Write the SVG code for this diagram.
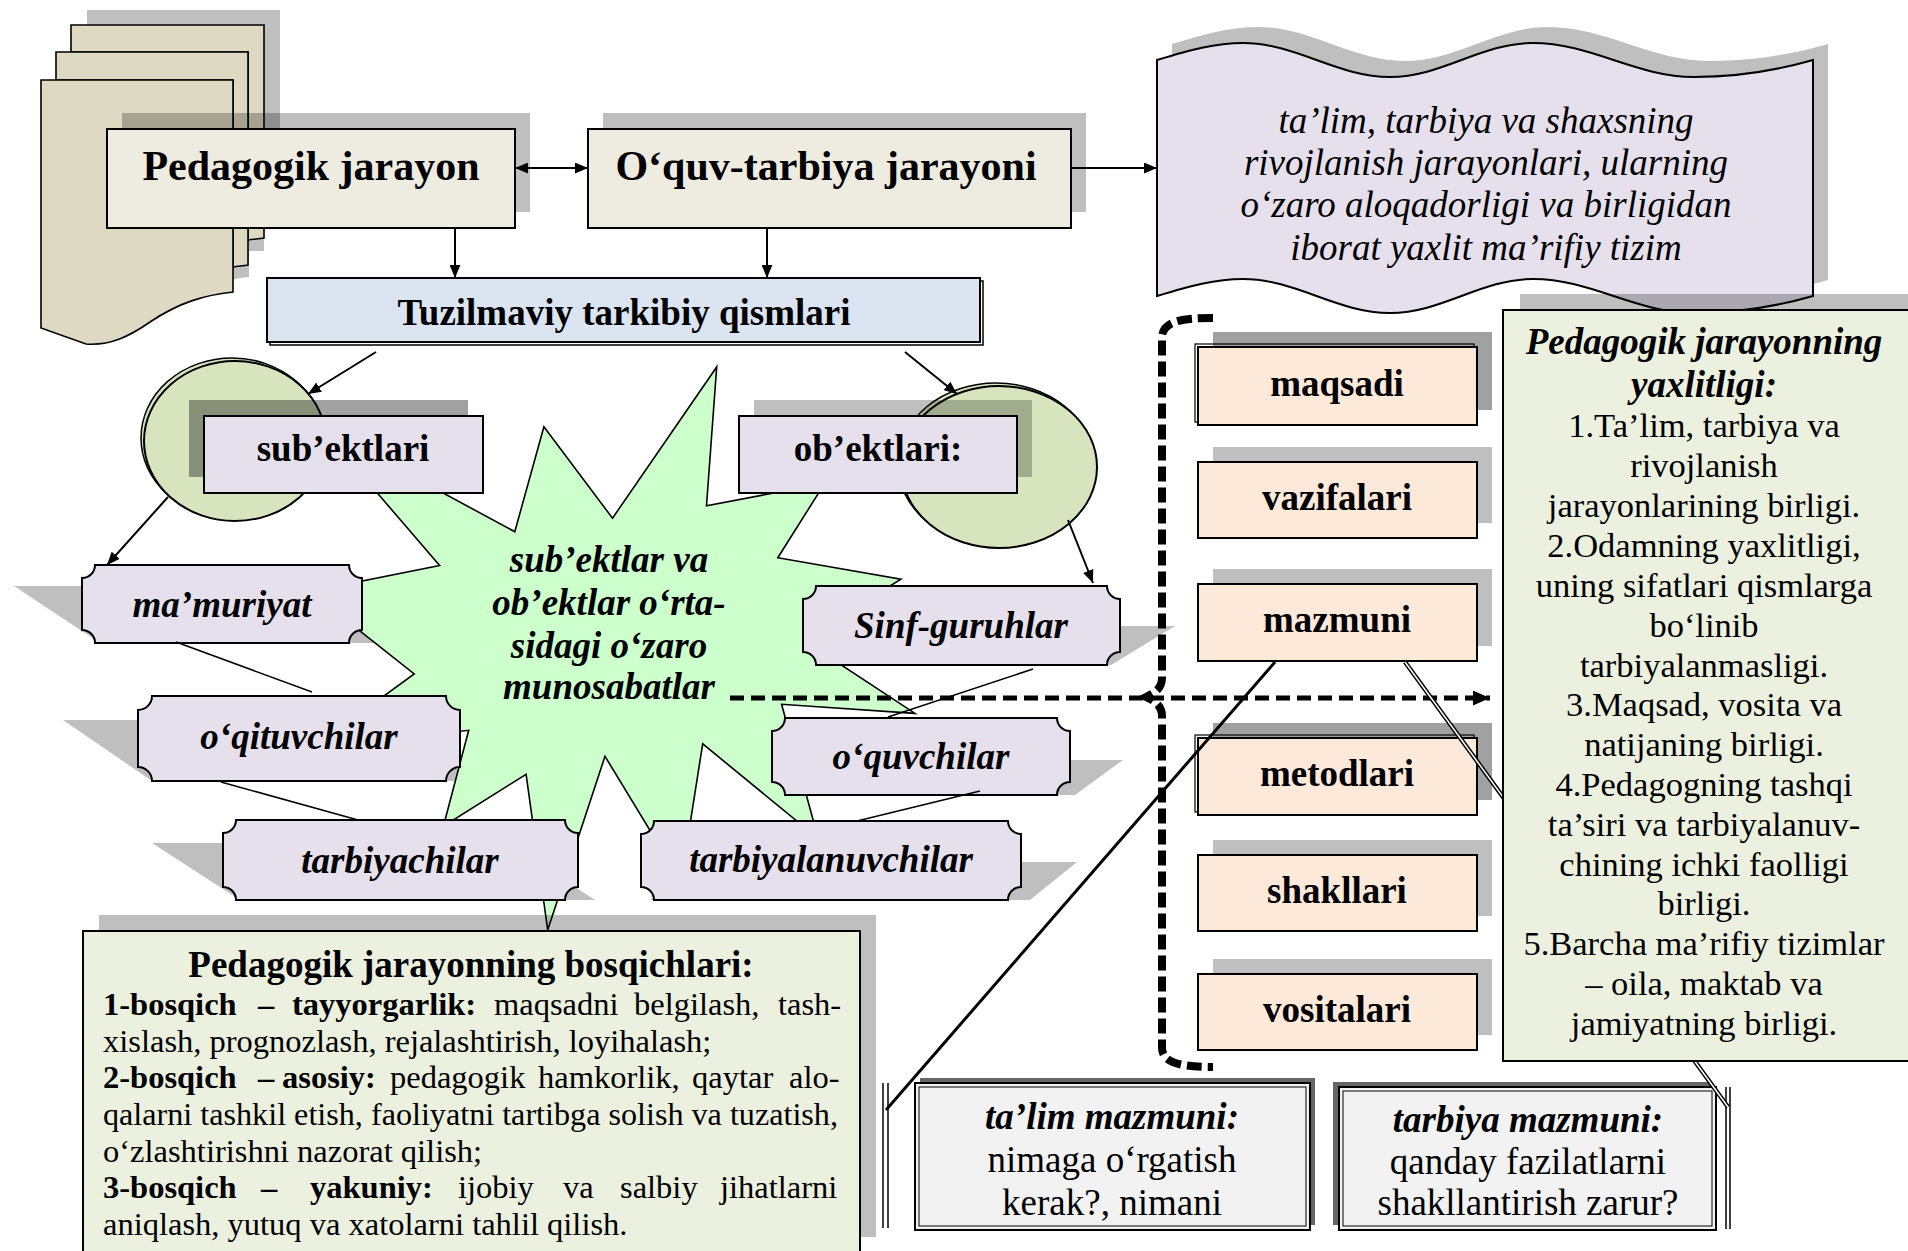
<svg xmlns="http://www.w3.org/2000/svg" width="1908" height="1251" viewBox="0 0 1908 1251">
<style>
.t{font-family:"Liberation Serif","Times New Roman",serif;fill:#000}
.m{text-anchor:middle}
.b{font-weight:bold}
.i{font-style:italic}
.s42{font-size:42px}
.s37{font-size:37px}
.s34{font-size:34.5px}
.s32{font-size:32.5px}
.bx{stroke:#000;stroke-width:2}
.sh{fill:#000;fill-opacity:.25}
.shd{fill:#000;fill-opacity:.37}
.gs{fill:#bfbfbf}
.ln{stroke:#000;stroke-width:2;fill:none}
.tl{stroke:#000;stroke-width:1.5;fill:none}
.lav{fill:#e5e0ec}
.peach{fill:#fde9d9}
.grn{fill:#ebf1de}
.olv{fill:#d7e4bd}
.tan{fill:#ddd9c3;stroke:#000;stroke-width:1.6}
</style>
<defs>
<marker id="ah" viewBox="0 0 12 10" refX="12" refY="5" markerWidth="13" markerHeight="11" markerUnits="userSpaceOnUse" orient="auto-start-reverse"><path d="M0,0 L12,5 L0,10 Z" fill="#000"/></marker>
<marker id="ahb" viewBox="0 0 16 14" refX="16" refY="7" markerWidth="17" markerHeight="15" markerUnits="userSpaceOnUse" orient="auto"><path d="M0,0 L16,7 L0,14 Z" fill="#000"/></marker>
<path id="wave" d="M1157,60 C1190,50 1215,43 1243,43 C1296,43 1337,77 1390,77 C1442,77 1481,43 1533,43 C1591,43 1636,77 1694,77 C1745,77 1785,68 1813,60 V296 C1785,304 1745,313 1694,313 C1636,313 1591,279 1533,279 C1481,279 1442,313 1390,313 C1337,313 1296,279 1243,279 C1215,279 1190,286 1157,296 Z"/>
<path id="page1" d="M41,80 H233 V292 C205,295 180,302 150,322 C130,336 110,346 86,344 L41,328 Z"/>
</defs>
<rect width="1908" height="1251" fill="#fff"/>

<g id="doc-stack">
<g class="gs" transform="translate(16,-15)">
<rect x="71" y="25" width="193" height="214"/>
<rect x="56" y="52" width="192" height="214"/>
<use href="#page1"/>
</g>
<path class="tan" d="M71,25 H264 V238 C258,239 253,239 248,240 L248,52 L71,52 Z"/>
<path class="tan" d="M56,52 H248 V265 C243,266 238,266 233,267 L233,80 L56,80 Z"/>
<use href="#page1" class="tan"/>
</g>

<g id="n-pedagogik">
<rect class="sh" x="122" y="113" width="408" height="99"/>
<rect class="bx" x="107" y="129" width="408" height="99" fill="#eeece1"/>
<text class="t b s42 m" x="311" y="180">Pedagogik jarayon</text>
</g>

<g id="n-oquv">
<rect class="sh" x="603" y="113" width="483" height="99"/>
<rect class="bx" x="588" y="129" width="483" height="99" fill="#eeece1"/>
<text class="t b s42 m" x="826" y="180">O‘quv-tarbiya jarayoni</text>
</g>

<g id="n-tizim">
<use href="#wave" class="gs" transform="translate(15,-16)"/>
<use href="#wave" class="lav" stroke="#000" stroke-width="2"/>
<text class="t i s37 m" x="1486" y="133">ta’lim, tarbiya va shaxsning</text>
<text class="t i s37 m" x="1486" y="175">rivojlanish jarayonlari, ularning</text>
<text class="t i s37 m" x="1486" y="217">o‘zaro aloqadorligi va birligidan</text>
<text class="t i s37 m" x="1486" y="260">iborat yaxlit ma’rifiy tizim</text>
</g>

<g id="n-tuzilmaviy">
<rect x="270" y="281" width="713" height="64" fill="#fff" stroke="#000" stroke-width="1.5"/>
<rect class="bx" x="267" y="278" width="713" height="64" fill="#dbe5f1"/>
<text class="t b s37 m" x="624" y="325">Tuzilmaviy tarkibiy qismlari</text>
</g>

<g id="n-sub-ellipse">
<ellipse cx="232" cy="438" rx="91" ry="80" class="olv" stroke="#000" stroke-width="1.5"/>
<ellipse cx="235" cy="441" rx="91" ry="80" class="olv" stroke="#000" stroke-width="2"/>
</g>
<g id="n-ob-ellipse">
<ellipse cx="996" cy="464" rx="98" ry="81" class="olv" stroke="#000" stroke-width="1.5"/>
<ellipse cx="999" cy="467" rx="98" ry="81" class="olv" stroke="#000" stroke-width="2"/>
</g>

<g id="plaque-shadows" class="gs">
<polygon points="14,586 294,586 380,643 100,643"/>
<polygon points="63,720 385,720 474,781 152,781"/>
<polygon points="152,843 507,843 595,900 240,900"/>
<polygon points="858,626 1175,626 1111,665 794,665"/>
<polygon points="825,760 1123,760 1075,795 777,795"/>
<polygon points="697,862 1077,862 1030,900 650,900"/>
</g>

<g id="n-star">
<path d="M612.5,518.2 L716.7,367 L706.5,505.8 L824.8,483.2 L777.8,557.7 L900.9,579.1 L803.2,640 L915,713.4 L781.6,704.3 L818.2,838.6 L702.7,743.8 L681,881.4 L605,756.3 L547.7,930 L526.1,774.3 L443.4,826.2 L468.7,730.3 L313.8,747.2 L414.2,673.9 L310,591.5 L439.6,565.5 L320.4,426.8 L514.8,531.7 L543.9,426.8 Z" fill="#ccffcc" stroke="#000" stroke-width="1.6"/>
<text class="t b i s37 m" x="609" y="572">sub’ektlar va</text>
<text class="t b i s37 m" x="609" y="615">ob’ektlar o‘rta-</text>
<text class="t b i s37 m" x="609" y="658">sidagi o‘zaro</text>
<text class="t b i s37 m" x="609" y="699">munosabatlar</text>
</g>

<g id="n-subektlari">
<rect class="shd" x="189" y="400" width="279" height="77"/>
<rect class="bx lav" x="204" y="416" width="279" height="77"/>
<text class="t b s37 m" x="343" y="461">sub’ektlari</text>
</g>
<g id="n-obektlari">
<rect class="sh" x="754" y="400" width="278" height="77"/>
<rect class="bx lav" x="739" y="416" width="278" height="77"/>
<text class="t b s37 m" x="878" y="461">ob’ektlari:</text>
</g>

<g id="n-mamuriyat">
<path class="bx lav" d="M95,565 H349 A13,13 0 0 0 362,578 V630 A13,13 0 0 0 349,643 H95 A13,13 0 0 0 82,630 V578 A13,13 0 0 0 95,565 Z"/>
<text class="t b i s37 m" x="222" y="617">ma’muriyat</text>
</g>
<g id="n-oqituvchilar">
<path class="bx lav" d="M152,696 H446 A14,14 0 0 0 460,710 V767 A14,14 0 0 0 446,781 H152 A14,14 0 0 0 138,767 V710 A14,14 0 0 0 152,696 Z"/>
<text class="t b i s37 m" x="299" y="749">o‘qituvchilar</text>
</g>
<g id="n-tarbiyachilar">
<path class="bx lav" d="M236,820 H565 A13,13 0 0 0 578,833 V887 A13,13 0 0 0 565,900 H236 A13,13 0 0 0 223,887 V833 A13,13 0 0 0 236,820 Z"/>
<text class="t b i s37 m" x="400" y="873">tarbiyachilar</text>
</g>
<g id="n-sinf">
<path class="bx lav" d="M816,586 H1107 A13,13 0 0 0 1120,599 V652 A13,13 0 0 0 1107,665 H816 A13,13 0 0 0 803,652 V599 A13,13 0 0 0 816,586 Z"/>
<text class="t b i s37 m" x="961" y="638">Sinf-guruhlar</text>
</g>
<g id="n-oquvchilar">
<path class="bx lav" d="M785,718 H1057 A13,13 0 0 0 1070,731 V782 A13,13 0 0 0 1057,795 H785 A13,13 0 0 0 772,782 V731 A13,13 0 0 0 785,718 Z"/>
<text class="t b i s37 m" x="921" y="769">o‘quvchilar</text>
</g>
<g id="n-tarbiyalanuvchilar">
<path class="bx lav" d="M654,821 H1008 A13,13 0 0 0 1021,834 V887 A13,13 0 0 0 1008,900 H654 A13,13 0 0 0 641,887 V834 A13,13 0 0 0 654,821 Z"/>
<text class="t b i s37 m" x="831" y="872">tarbiyalanuvchilar</text>
</g>

<g id="n-maqsadi">
<rect class="shd" x="1213" y="332" width="279" height="78"/>
<rect x="1195" y="344" width="279" height="78" fill="none" stroke="#000" stroke-width="1.2"/>
<rect class="bx peach" x="1198" y="347" width="279" height="78"/>
<text class="t b s37 m" x="1337" y="396">maqsadi</text>
</g>
<g id="n-vazifalari">
<rect class="sh" x="1213" y="447" width="279" height="76"/>
<rect class="bx peach" x="1198" y="462" width="279" height="76"/>
<text class="t b s37 m" x="1337" y="510">vazifalari</text>
</g>
<g id="n-mazmuni">
<rect class="sh" x="1213" y="569" width="279" height="77"/>
<rect class="bx peach" x="1198" y="584" width="279" height="77"/>
<text class="t b s37 m" x="1337" y="632">mazmuni</text>
</g>
<g id="n-metodlari">
<rect class="shd" x="1213" y="723" width="279" height="77"/>
<rect x="1195" y="735" width="279" height="77" fill="none" stroke="#000" stroke-width="1.2"/>
<rect class="bx peach" x="1198" y="738" width="279" height="77"/>
<text class="t b s37 m" x="1337" y="786">metodlari</text>
</g>
<g id="n-shakllari">
<rect class="sh" x="1213" y="840" width="279" height="76"/>
<rect class="bx peach" x="1198" y="855" width="279" height="76"/>
<text class="t b s37 m" x="1337" y="903">shakllari</text>
</g>
<g id="n-vositalari">
<rect class="sh" x="1213" y="959" width="279" height="76"/>
<rect class="bx peach" x="1198" y="974" width="279" height="76"/>
<text class="t b s37 m" x="1337" y="1022">vositalari</text>
</g>

<g id="n-bosqichlari">
<rect class="sh" x="99" y="915" width="777" height="322"/>
<rect class="bx grn" x="83" y="931" width="777" height="322"/>
<text class="t b s37 m" x="471" y="977">Pedagogik jarayonning bosqichlari:</text>
<text class="t s32" y="1015"><tspan x="103" class="b">1-bosqich</tspan><tspan x="258" class="b">–</tspan><tspan x="292" class="b">tayyorgarlik:</tspan><tspan x="494">maqsadni</tspan><tspan x="634">belgilash,</tspan><tspan x="778">tash-</tspan></text>
<text class="t s32" x="103" y="1052">xislash, prognozlash, rejalashtirish, loyihalash;</text>
<text class="t s32" y="1088"><tspan x="103" class="b">2-bosqich</tspan><tspan x="258" class="b">–</tspan><tspan x="282" class="b">asosiy:</tspan><tspan x="390">pedagogik</tspan><tspan x="538">hamkorlik,</tspan><tspan x="692">qaytar</tspan><tspan x="789">alo-</tspan></text>
<text class="t s32" x="103" y="1125" textLength="735" lengthAdjust="spacingAndGlyphs">qalarni tashkil etish, faoliyatni tartibga solish va tuzatish,</text>
<text class="t s32" x="103" y="1162">o‘zlashtirishni nazorat qilish;</text>
<text class="t s32" y="1198"><tspan x="103" class="b">3-bosqich</tspan><tspan x="261" class="b">–</tspan><tspan x="310" class="b">yakuniy:</tspan><tspan x="458">ijobiy</tspan><tspan x="563">va</tspan><tspan x="620">salbiy</tspan><tspan x="720">jihatlarni</tspan></text>
<text class="t s32" x="103" y="1235">aniqlash, yutuq va xatolarni tahlil qilish.</text>
</g>

<g id="n-talim-mazmuni">
<rect x="920" y="1078" width="395" height="147" fill="#666"/>
<rect class="bx" x="915" y="1083" width="395" height="147" fill="#f2f2f2"/>
<rect x="919" y="1087" width="387" height="139" fill="none" stroke="#000" stroke-width="1"/>
<line x1="883" y1="1083" x2="883" y2="1228" class="tl"/>
<line x1="888" y1="1083" x2="888" y2="1228" class="tl"/>
<text class="t b i s37 m" x="1112" y="1129">ta’lim mazmuni:</text>
<text class="t s37 m" x="1112" y="1172">nimaga o‘rgatish</text>
<text class="t s37 m" x="1112" y="1215">kerak?, nimani</text>
</g>

<g id="n-tarbiya-mazmuni">
<rect x="1333" y="1082" width="377" height="143" fill="#666"/>
<rect class="bx" x="1339" y="1087" width="377" height="143" fill="#f2f2f2"/>
<rect x="1343" y="1091" width="369" height="135" fill="none" stroke="#000" stroke-width="1"/>
<line x1="1726" y1="1087" x2="1726" y2="1229" class="tl"/>
<line x1="1730" y1="1087" x2="1730" y2="1229" class="tl"/>
<text class="t b i s37 m" x="1528" y="1132">tarbiya mazmuni:</text>
<text class="t s37 m" x="1528" y="1174">qanday fazilatlarni</text>
<text class="t s37 m" x="1528" y="1215">shakllantirish zarur?</text>
</g>

<g id="connectors">
<line class="ln" x1="515" y1="168" x2="588" y2="168" marker-start="url(#ah)" marker-end="url(#ah)"/>
<line class="ln" x1="1071" y1="168" x2="1157" y2="168" marker-end="url(#ah)"/>
<line class="ln" x1="455" y1="228" x2="455" y2="278" marker-end="url(#ah)"/>
<line class="ln" x1="767" y1="228" x2="767" y2="278" marker-end="url(#ah)"/>
<line class="ln" x1="376" y1="352" x2="308" y2="394" marker-end="url(#ah)"/>
<line class="ln" x1="905" y1="352" x2="957" y2="394" marker-end="url(#ah)"/>
<line class="ln" x1="168" y1="497" x2="107" y2="565" marker-end="url(#ah)"/>
<line class="ln" x1="1068" y1="520" x2="1093" y2="583" marker-end="url(#ah)"/>
<line class="tl" x1="176" y1="642" x2="312" y2="692"/>
<line class="tl" x1="221" y1="782" x2="358" y2="820"/>
<line class="tl" x1="1033" y1="669" x2="888" y2="717"/>
<line class="tl" x1="980" y1="791" x2="857" y2="821"/>
<path d="M1213,318 C1185,318 1162,320 1162,338 V678 C1162,690 1152,694 1146,697 C1152,700 1162,704 1162,716 V1048 C1162,1064 1185,1067 1213,1067" fill="none" stroke="#000" stroke-width="8" stroke-dasharray="15 6"/>
<line x1="730" y1="698" x2="1490" y2="698" stroke="#000" stroke-width="5" stroke-dasharray="14 7" marker-end="url(#ahb)"/>
<line x1="1275" y1="662" x2="886" y2="1110" stroke="#000" stroke-width="3"/>
<line x1="1405" y1="662" x2="1728" y2="1107" stroke="#000" stroke-width="4.5"/>
<line x1="1405" y1="662" x2="1728" y2="1107" stroke="#fff" stroke-width="1.5"/>
</g>

<g id="n-yaxlitligi">
<rect class="sh" x="1520" y="294" width="400" height="751"/>
<rect class="bx grn" x="1503" y="310" width="420" height="751"/>
<text class="t b i s37 m" x="1704" y="354">Pedagogik jarayonning</text>
<text class="t b i s37 m" x="1704" y="397">yaxlitligi:</text>
<text class="t s34 m" x="1704" y="437">1.Ta’lim, tarbiya va</text>
<text class="t s34 m" x="1704" y="477">rivojlanish</text>
<text class="t s34 m" x="1704" y="517">jarayonlarining birligi.</text>
<text class="t s34 m" x="1704" y="557">2.Odamning yaxlitligi,</text>
<text class="t s34 m" x="1704" y="597">uning sifatlari qismlarga</text>
<text class="t s34 m" x="1704" y="637">bo‘linib</text>
<text class="t s34 m" x="1704" y="677">tarbiyalanmasligi.</text>
<text class="t s34 m" x="1704" y="716">3.Maqsad, vosita va</text>
<text class="t s34 m" x="1704" y="756">natijaning birligi.</text>
<text class="t s34 m" x="1704" y="796">4.Pedagogning tashqi</text>
<text class="t s34 m" x="1704" y="836">ta’siri va tarbiyalanuv-</text>
<text class="t s34 m" x="1704" y="876">chining ichki faolligi</text>
<text class="t s34 m" x="1704" y="915">birligi.</text>
<text class="t s34 m" x="1704" y="955">5.Barcha ma’rifiy tizimlar</text>
<text class="t s34 m" x="1704" y="995">– oila, maktab va</text>
<text class="t s34 m" x="1704" y="1035">jamiyatning birligi.</text>
</g>
</svg>
